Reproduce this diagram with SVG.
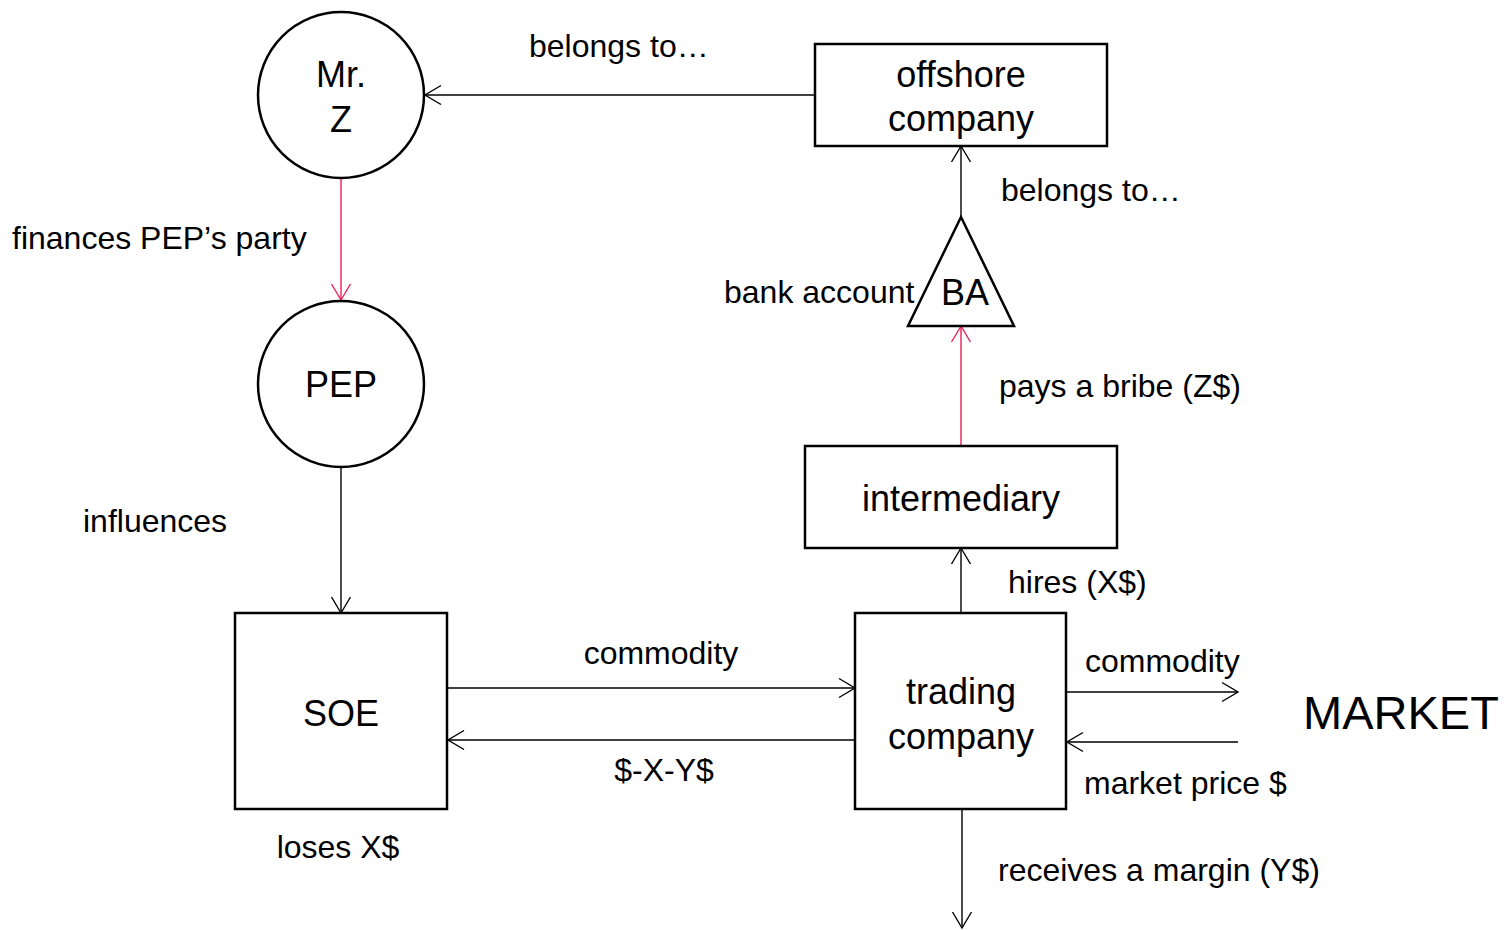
<svg xmlns="http://www.w3.org/2000/svg" width="1505" height="930" viewBox="0 0 1505 930">
  <style>
    .node { fill: #ffffff; stroke: #000000; stroke-width: 2.5; }
    .big { font-family: "Liberation Sans", Arial, sans-serif; font-size: 36px; fill: #000000; text-anchor: middle; }
    .lbl { font-family: "Liberation Sans", Arial, sans-serif; font-size: 32px; fill: #000000; }
    .mid { text-anchor: middle; }
    .edge { fill: none; stroke: #000000; stroke-width: 1.4; marker-end: url(#open); }
    .edge.red { stroke: #e8205a; marker-end: url(#openRed); }
  </style>
  <defs>
    <marker id="open" markerUnits="userSpaceOnUse" viewBox="-18 -11 20 22" refX="0" refY="0" markerWidth="20" markerHeight="22" orient="auto" overflow="visible">
      <path d="M-16,-9.5 L0,0 L-16,9.5" fill="none" stroke="#000000" stroke-width="1.4"/>
    </marker>
    <marker id="openRed" markerUnits="userSpaceOnUse" viewBox="-18 -11 20 22" refX="0" refY="0" markerWidth="20" markerHeight="22" orient="auto" overflow="visible">
      <path d="M-16,-9.5 L0,0 L-16,9.5" fill="none" stroke="#e8205a" stroke-width="1.4"/>
    </marker>
  </defs>
  <rect width="1505" height="930" fill="#ffffff"/>

  <!-- connectors -->
  <g id="connectors">
    <line class="edge" x1="815" y1="95" x2="425" y2="95"/>
    <line class="edge red" x1="341" y1="178" x2="341" y2="300"/>
    <line class="edge" x1="341" y1="467" x2="341" y2="613"/>
    <line class="edge" x1="447" y1="688" x2="855" y2="688"/>
    <line class="edge" x1="855" y1="740" x2="448" y2="740"/>
    <line class="edge" x1="961" y1="613" x2="961" y2="548"/>
    <line class="edge red" x1="961" y1="446" x2="961" y2="326"/>
    <line class="edge" x1="961" y1="217" x2="961" y2="146"/>
    <line class="edge" x1="1067" y1="692" x2="1238" y2="692"/>
    <line class="edge" x1="1238" y1="742" x2="1067" y2="742"/>
    <line class="edge" x1="962" y1="809" x2="962" y2="928"/>
  </g>

  <!-- edge labels -->
  <g id="labels">
    <text class="lbl" x="529" y="57">belongs to…</text>
    <text class="lbl" x="1001" y="201">belongs to…</text>
    <text class="lbl" x="12" y="249">finances PEP’s party</text>
    <text class="lbl" x="724" y="303">bank account</text>
    <text class="lbl" x="999" y="397">pays a bribe (Z$)</text>
    <text class="lbl" x="83" y="532">influences</text>
    <text class="lbl" x="1008" y="593">hires (X$)</text>
    <text class="lbl mid" x="661" y="664">commodity</text>
    <text class="lbl" x="1085" y="672">commodity</text>
    <text class="lbl mid" x="664" y="781">$-X-Y$</text>
    <text class="lbl" x="1084" y="794">market price $</text>
    <text class="lbl mid" x="338" y="858">loses X$</text>
    <text class="lbl" x="998" y="881">receives a margin (Y$)</text>
  </g>

  <g id="mr-z">
    <circle class="node" cx="341" cy="95" r="83"/>
    <text class="big" x="341" y="87">Mr.</text>
    <text class="big" x="341" y="132">Z</text>
  </g>

  <g id="pep">
    <circle class="node" cx="341" cy="384" r="83"/>
    <text class="big" x="341" y="397">PEP</text>
  </g>

  <g id="offshore-company">
    <rect class="node" x="815" y="44" width="292" height="102"/>
    <text class="big" x="961" y="87">offshore</text>
    <text class="big" x="961" y="131">company</text>
  </g>

  <g id="bank-account">
    <polygon class="node" points="961,217 1014,326 908,326"/>
    <text class="big" x="965" y="305">BA</text>
  </g>

  <g id="intermediary">
    <rect class="node" x="805" y="446" width="312" height="102"/>
    <text class="big" x="961" y="511">intermediary</text>
  </g>

  <g id="soe">
    <rect class="node" x="235" y="613" width="212" height="196"/>
    <text class="big" x="341" y="726">SOE</text>
  </g>

  <g id="trading-company">
    <rect class="node" x="855" y="613" width="211" height="196"/>
    <text class="big" x="961" y="704">trading</text>
    <text class="big" x="961" y="749">company</text>
  </g>

  <g id="market">
    <text class="big" x="1401" y="729" style="font-size:47px">MARKET</text>
  </g>
</svg>
